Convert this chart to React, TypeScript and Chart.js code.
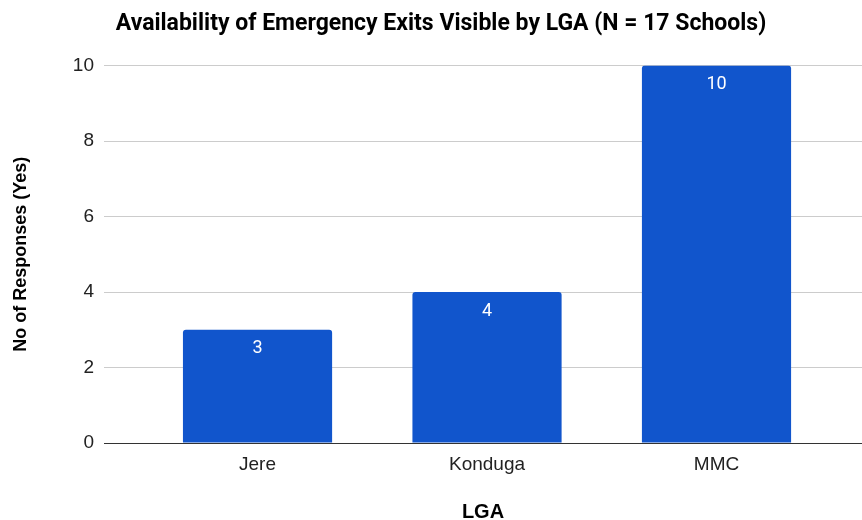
import React, { useEffect, useRef } from "react";
import { Chart, registerables } from "chart.js";

Chart.register(...registerables);

const categories = ["Jere", "Konduga", "MMC"];
const responses = [3, 4, 10];
const yTicks = [0, 2, 4, 6, 8, 10];

const barLabelPlugin = {
  id: "barLabels",
  afterDatasetsDraw(chart: any) {
    const { ctx } = chart;
    const meta = chart.getDatasetMeta(0);
    ctx.save();
    ctx.fillStyle = "#ffffff";
    ctx.font = "18px Roboto";
    ctx.textAlign = "center";
    ctx.textBaseline = "middle";
    meta.data.forEach((bar: any, i: number) => {
      ctx.fillText(String(responses[i]), bar.x, bar.y + 19);
    });
    ctx.restore();
  },
};

export default function App() {
  const ref = useRef<HTMLCanvasElement>(null);
  useEffect(() => {
    document.body.style.margin = "0";
    const chart = new Chart(ref.current!, {
      type: "bar",
      data: {
        datasets: [
          {
            data: categories.map((c, i) => ({ x: i, y: responses[i] })),
            backgroundColor: "#1155CC",
            borderRadius: { topLeft: 3, topRight: 3, bottomLeft: 0, bottomRight: 0 },
            borderSkipped: false,
            categoryPercentage: 0.65,
            barPercentage: 1,
          },
        ],
      },
      options: {
        animation: false,
        responsive: false,
        maintainAspectRatio: false,
        layout: { padding: { left: 20, right: 0, top: 0, bottom: 0 } },
        plugins: {
          legend: { display: false },
          tooltip: { enabled: false },
          title: {
            display: true,
            text: "Availability of Emergency Exits Visible by LGA (N = 17 Schools)",
            font: { family: "Roboto", size: 23, weight: "bold" },
            color: "#000",
            padding: { top: 10, bottom: 28 },
          },
        },
        scales: {
          x: {
            type: "linear",
            min: -0.669,
            max: 2.634,
            offset: false,
            afterBuildTicks: (scale: any) => {
              scale.ticks = categories.map((_, i) => ({ value: i }));
            },
            afterFit: (scale: any) => {
              scale.height = 77;
            },
            ticks: {
              callback: (v: any) => categories[v as number] ?? "",
              font: { family: "Liberation Sans", size: 19 },
              color: "#222",
              padding: 2,
              maxRotation: 0,
            },
            grid: { display: false, offset: false },
            border: { display: false },
            title: {
              display: true,
              text: "LGA",
              font: { family: "Liberation Sans", size: 20, weight: "bold" },
              color: "#000",
              padding: { top: 0, bottom: -4 },
            },
          },
          y: {
            min: 0,
            max: 10,
            afterBuildTicks: (scale: any) => {
              scale.ticks = yTicks.map((v) => ({ value: v }));
            },
            afterFit: (scale: any) => {
              scale.width = 84;
            },
            ticks: {
              font: { family: "Liberation Sans", size: 19 },
              color: "#222",
              padding: 10,
            },
            grid: {
              color: (c: any) => (c.tick && c.tick.value === 0 ? "#333" : "#cccccc"),
              lineWidth: 1,
              drawTicks: false,
            },
            border: { display: false },
            title: {
              display: true,
              text: "No of Responses (Yes)",
              font: { family: "Liberation Sans", size: 18, weight: "bold" },
              color: "#000",
              padding: { top: -10, bottom: 0 },
            },
          },
        },
      },
      plugins: [barLabelPlugin],
    } as any);
    return () => chart.destroy();
  }, []);
  return <canvas ref={ref} width={862} height={520} style={{ display: "block" }} />;
}
